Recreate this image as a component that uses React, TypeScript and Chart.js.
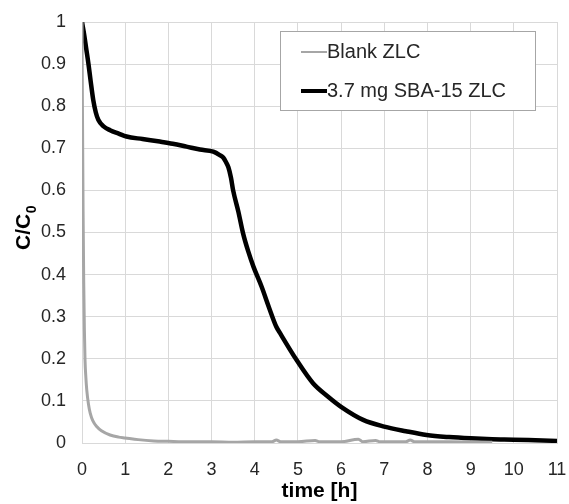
import React, { useEffect, useRef } from "react";
import { Chart, registerables } from "chart.js";

Chart.register(...registerables);

const xTicks = [0, 1, 2, 3, 4, 5, 6, 7, 8, 9, 10, 11];
const yTicks = [0, 0.1, 0.2, 0.3, 0.4, 0.5, 0.6, 0.7, 0.8, 0.9, 1];

const seriesLabels = ["Blank ZLC", "3.7 mg SBA-15 ZLC"];

const blankTime = [
  0, 0.01, 0.025, 0.04, 0.055, 0.07, 0.09, 0.11, 0.15, 0.19, 0.25, 0.34, 0.45, 0.65, 0.85, 1.0,
  1.3, 1.66, 2.0, 2.5, 3.0, 3.5, 4.0, 4.4, 4.5, 4.6, 5.0, 5.4, 5.5, 6.0, 6.4, 6.5, 6.8, 6.9,
  7.5, 7.6, 7.7, 8.5, 9.5,
];
const blankC = [
  1.0, 0.8, 0.55, 0.38, 0.27, 0.197, 0.155, 0.126, 0.092, 0.071, 0.053, 0.039, 0.029, 0.019,
  0.014, 0.012, 0.008, 0.005, 0.004, 0.003, 0.003, 0.002, 0.003, 0.003, 0.007, 0.003, 0.003,
  0.006, 0.003, 0.003, 0.009, 0.003, 0.006, 0.003, 0.003, 0.007, 0.003, 0.003, 0.002,
];

const sbaTime = [
  0, 0.05, 0.1, 0.15, 0.2, 0.26, 0.32, 0.38, 0.5, 0.65, 0.85, 1.03, 1.4, 1.8, 2.1, 2.42, 2.73,
  3.04, 3.19, 3.27, 3.33, 3.39, 3.45, 3.5, 3.62, 3.73, 3.85, 3.97, 4.16, 4.33, 4.5, 4.58, 4.97,
  5.35, 5.7, 6.0, 6.51, 7.0, 7.5, 7.98, 8.5, 9.0, 9.5, 10.0, 10.5, 11.0,
];
const sbaC = [
  1.0, 0.97, 0.935, 0.9, 0.86, 0.815, 0.785, 0.767, 0.752, 0.743, 0.735, 0.728, 0.722, 0.716,
  0.711, 0.704, 0.697, 0.692, 0.684, 0.678, 0.668, 0.655, 0.63, 0.6, 0.55, 0.498, 0.455, 0.419,
  0.371, 0.322, 0.276, 0.262, 0.197, 0.142, 0.11, 0.086, 0.055, 0.039, 0.028, 0.019, 0.014,
  0.011, 0.009, 0.008, 0.0065, 0.005,
];

const seriesColors = ["#a6a6a6", "#000000"];
const seriesWidths = [3, 4.5];
const legendWidths = [2, 4];

const toPoints = (xs: number[], ys: number[]) => xs.map((x, i) => ({ x, y: ys[i] }));

const yTitlePlugin = {
  id: "yTitle",
  afterDraw(chart: any) {
    const ctx = chart.ctx;
    ctx.save();
    ctx.translate(24, 250);
    ctx.rotate(-Math.PI / 2);
    ctx.fillStyle = "#000";
    ctx.textBaseline = "middle";
    ctx.textAlign = "left";
    ctx.font = "bold 21px 'Liberation Sans', Arial, sans-serif";
    const main = "C/C";
    ctx.fillText(main, 0, 0);
    const w = ctx.measureText(main).width;
    ctx.font = "bold 14px 'Liberation Sans', Arial, sans-serif";
    ctx.fillText("0", w + 0.5, 8);
    ctx.restore();
  },
};

const legendPlugin = {
  id: "boxLegend",
  afterDraw(chart: any) {
    const ctx = chart.ctx;
    const left = 280.5;
    const top = 31.5;
    const width = 255;
    const height = 79;
    ctx.save();
    ctx.fillStyle = "#ffffff";
    ctx.fillRect(left, top, width, height);
    ctx.strokeStyle = "#a6a6a6";
    ctx.lineWidth = 1;
    ctx.strokeRect(left, top, width, height);
    ctx.font = "20px 'Liberation Sans', Arial, sans-serif";
    ctx.textBaseline = "middle";
    ctx.textAlign = "left";
    chart.data.datasets.forEach((ds: any, i: number) => {
      const y = 52 + i * 39;
      ctx.strokeStyle = ds.borderColor;
      ctx.lineWidth = legendWidths[i];
      ctx.beginPath();
      ctx.moveTo(301, y);
      ctx.lineTo(327, y);
      ctx.stroke();
      ctx.fillStyle = "#262626";
      ctx.fillText(ds.label, 327, y);
    });
    ctx.restore();
  },
};

export default function App() {
  const ref = useRef<HTMLCanvasElement | null>(null);

  useEffect(() => {
    document.body.style.margin = "0";
    const canvas = ref.current;
    if (!canvas) return;
    const tickFont = { family: "'Liberation Sans', Arial, sans-serif", size: 18 };
    const chart = new Chart(canvas, {
      type: "line",
      data: {
        datasets: [
          {
            label: seriesLabels[0],
            data: toPoints(blankTime, blankC),
            borderColor: seriesColors[0],
            backgroundColor: seriesColors[0],
            borderWidth: seriesWidths[0],
            pointRadius: 0,
            cubicInterpolationMode: "monotone",
            fill: false,
          },
          {
            label: seriesLabels[1],
            data: toPoints(sbaTime, sbaC),
            borderColor: seriesColors[1],
            backgroundColor: seriesColors[1],
            borderWidth: seriesWidths[1],
            pointRadius: 0,
            cubicInterpolationMode: "monotone",
            fill: false,
          },
        ],
      },
      options: {
        responsive: false,
        animation: false,
        devicePixelRatio: 1,
        layout: { padding: { left: 0, right: 12, top: 22, bottom: 0 } },
        plugins: {
          legend: { display: false },
          tooltip: { enabled: false },
        },
        scales: {
          x: {
            type: "linear",
            min: 0,
            max: 11,
            afterFit: (scale: any) => {
              scale.height = 61;
              scale.paddingLeft = 0;
              scale.paddingRight = 0;
            },
            afterBuildTicks: (scale: any) => {
              scale.ticks = xTicks.map((v) => ({ value: v }));
            },
            ticks: {
              font: tickFont,
              color: "#262626",
              padding: 16,
              maxRotation: 0,
              autoSkip: false,
              callback: (v: any) => String(v),
            },
            grid: { color: "#d9d9d9", drawTicks: false, lineWidth: 1 },
            border: { color: "#d9d9d9", width: 1 },
            title: {
              display: true,
              text: "time [h]",
              color: "#000",
              font: { family: "'Liberation Sans', Arial, sans-serif", size: 21, weight: "bold" },
              padding: { top: 0, bottom: 0 },
            },
          },
          y: {
            type: "linear",
            min: 0,
            max: 1,
            afterFit: (scale: any) => {
              scale.width = 82;
              scale.paddingTop = 0;
              scale.paddingBottom = 0;
            },
            afterBuildTicks: (scale: any) => {
              scale.ticks = yTicks.map((v) => ({ value: v }));
            },
            ticks: {
              font: tickFont,
              color: "#262626",
              padding: 16,
              autoSkip: false,
              callback: (v: any) => String(Math.round(v * 10) / 10),
            },
            grid: { color: "#d9d9d9", drawTicks: false, lineWidth: 1 },
            border: { color: "#d9d9d9", width: 1 },
          },
        },
      } as any,
      plugins: [yTitlePlugin, legendPlugin],
    });
    return () => chart.destroy();
  }, []);

  return <canvas ref={ref} width={569} height={504} style={{ display: "block" }} />;
}
